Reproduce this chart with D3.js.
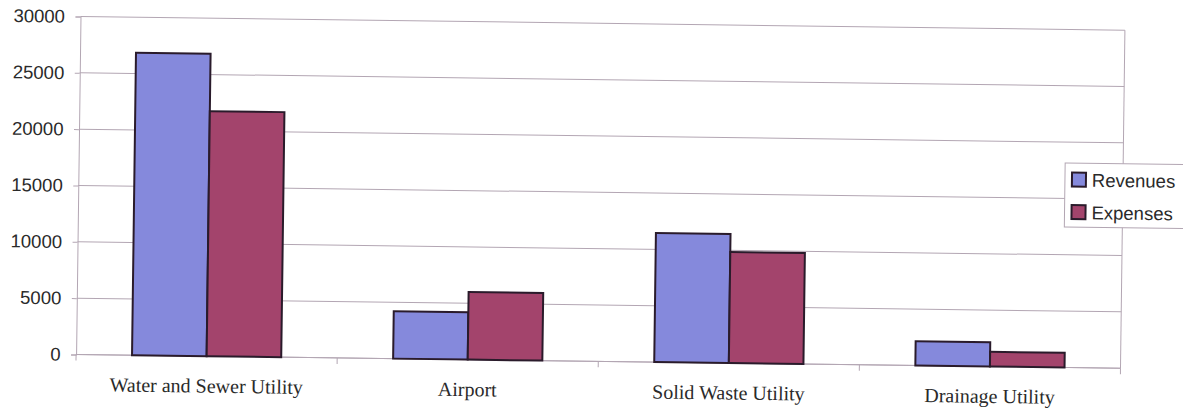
<!DOCTYPE html>
<html>
<head>
<meta charset="utf-8">
<script src="https://cdn.jsdelivr.net/npm/d3@7"></script>
<style>
  html, body { margin: 0; padding: 0; background: #ffffff; }
  svg { display: block; }
</style>
</head>
<body>
<svg id="chart" width="1183" height="410"></svg>
<script>
// Enterprise funds: revenues and expenses by utility
const categories = ["Water and Sewer Utility", "Airport", "Solid Waste Utility", "Drainage Utility"];
const seriesNames = ["Revenues", "Expenses"];
const revenues = [26850, 4200, 11450, 2150];
const expenses = [21750, 6000, 9850, 1300];
const yTickValues = [0, 5000, 10000, 15000, 20000, 25000, 30000];

const seriesValues = [revenues, expenses];
const colors = ["#8589dc", "#a3446c"];
const gridColor = "#b3a6b3";
const barStroke = "#2a1b2b";

const W = 1183, H = 410;
const plot = { left: 80.5, right: 1125, top: 16.5, bottom: 354.5 };

const svg = d3.select("#chart");

// the printed sheet sits slightly skewed on the page
const root = svg.append("g")
  .attr("transform", `rotate(0.75, ${plot.left}, ${plot.top})`);

const x0 = d3.scaleBand()
  .domain(categories)
  .range([plot.left, plot.right])
  .paddingInner(0)
  .paddingOuter(0);

// Excel-style gap width of 150%: band = 3.5 bar widths
const barW = x0.bandwidth() / 3.5;
const x1 = d3.scaleBand()
  .domain(seriesNames)
  .range([(x0.bandwidth() - 2 * barW) / 2, (x0.bandwidth() + 2 * barW) / 2]);

const y = d3.scaleLinear()
  .domain([0, 30000])
  .range([plot.bottom, plot.top]);

// horizontal gridlines
root.append("g")
  .selectAll("line")
  .data(yTickValues)
  .join("line")
  .attr("x1", plot.left)
  .attr("x2", plot.right)
  .attr("y1", d => y(d))
  .attr("y2", d => y(d))
  .attr("stroke", gridColor)
  .attr("stroke-width", 1);

// right edge of the plot area
root.append("line")
  .attr("x1", plot.right).attr("x2", plot.right)
  .attr("y1", plot.top).attr("y2", plot.bottom)
  .attr("stroke", gridColor).attr("stroke-width", 1);

// y axis
const yAxis = root.append("g")
  .attr("transform", `translate(${plot.left},0)`)
  .call(d3.axisLeft(y).tickValues(yTickValues).tickSize(5).tickPadding(10.5).tickFormat(d3.format("d")));
yAxis.select(".domain").attr("stroke", gridColor);
yAxis.selectAll(".tick line").attr("stroke", gridColor);
yAxis.selectAll(".tick text")
  .attr("fill", "#2a2a2a")
  .style("font-family", "'Liberation Sans', Arial, sans-serif")
  .style("font-size", "18.5px");

// x axis with tick marks between categories
const xAxis = root.append("g")
  .attr("transform", `translate(0,${plot.bottom})`);
xAxis.append("line")
  .attr("x1", plot.left).attr("x2", plot.right)
  .attr("y1", 0).attr("y2", 0)
  .attr("stroke", gridColor);
const boundaries = categories.map(c => x0(c)).concat([plot.right]);
xAxis.selectAll("line.sep")
  .data(boundaries)
  .join("line")
  .attr("class", "sep")
  .attr("x1", d => d).attr("x2", d => d)
  .attr("y1", 0).attr("y2", 6)
  .attr("stroke", gridColor);
xAxis.selectAll("text")
  .data(categories)
  .join("text")
  .attr("x", d => x0(d) + x0.bandwidth() / 2)
  .attr("y", 36.5)
  .attr("text-anchor", "middle")
  .attr("fill", "#2a2a2a")
  .style("font-family", "'Liberation Serif', 'Times New Roman', serif")
  .style("font-size", "20px")
  .text(d => d);

// bars
const groups = root.append("g")
  .selectAll("g")
  .data(categories)
  .join("g")
  .attr("transform", d => `translate(${x0(d)},0)`);

groups.selectAll("rect")
  .data((c, i) => seriesNames.map((s, j) => ({ s, j, v: seriesValues[j][i] })))
  .join("rect")
  .attr("x", d => x1(d.s))
  .attr("width", x1.bandwidth())
  .attr("y", d => y(d.v))
  .attr("height", d => y(0) - y(d.v))
  .attr("fill", d => colors[d.j])
  .attr("stroke", barStroke)
  .attr("stroke-width", 2);

// legend
const legend = root.append("g").attr("transform", "translate(1067,150)");
legend.append("rect")
  .attr("x", 0).attr("y", 0)
  .attr("width", 140).attr("height", 64)
  .attr("fill", "#ffffff")
  .attr("stroke", gridColor);
const items = legend.selectAll("g.item")
  .data(seriesNames)
  .join("g")
  .attr("class", "item")
  .attr("transform", (d, i) => `translate(7,${9.5 + i * 32.5})`);
items.append("rect")
  .attr("width", 14).attr("height", 14)
  .attr("fill", (d, i) => colors[i])
  .attr("stroke", barStroke)
  .attr("stroke-width", 2);
items.append("text")
  .attr("x", 20)
  .attr("y", 14)
  .attr("fill", "#2a2a2a")
  .style("font-family", "'Liberation Sans', Arial, sans-serif")
  .style("font-size", "18.5px")
  .text(d => d);
</script>
</body>
</html>
